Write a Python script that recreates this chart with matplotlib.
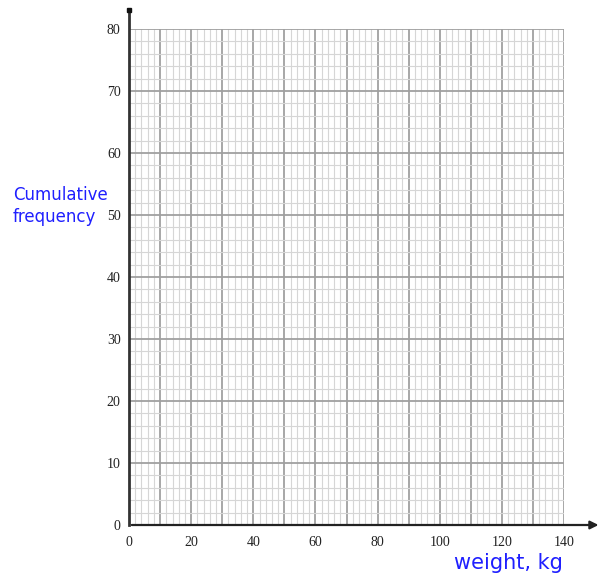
import matplotlib.pyplot as plt
import numpy as np

x_ticks = [0, 20, 40, 60, 80, 100, 120, 140]
y_ticks = [0, 10, 20, 30, 40, 50, 60, 70, 80]
x_label = "weight, kg"
y_label = "Cumulative\nfrequency"

fig = plt.figure(figsize=(6.03, 5.79), dpi=100)
ax = fig.add_axes([129 / 603, 54 / 579, 435 / 603, 496 / 579])
ax.set_xlim(0, 140)
ax.set_ylim(0, 80)

# graph paper: minor every 2, major every 10
for v in np.arange(0, 141, 2):
    major = v % 10 == 0
    ax.axvline(v, color="#a0a0a0" if major else "#d6d6d6", lw=1.3 if major else 0.8, zorder=1)
for v in np.arange(0, 81, 2):
    major = v % 10 == 0
    ax.axhline(v, color="#a0a0a0" if major else "#d6d6d6", lw=1.3 if major else 0.8, zorder=1)

for s in ax.spines.values():
    s.set_visible(False)
ax.tick_params(length=0, pad=8)
ax.set_xticks(x_ticks)
ax.set_yticks(y_ticks)
ax.set_xticklabels([str(t) for t in x_ticks], family="Liberation Serif", fontsize=10, color="#222")
ax.set_yticklabels([str(t) for t in y_ticks], family="Liberation Serif", fontsize=10, color="#222")
ax.tick_params(axis="y", pad=6)

# axes lines with arrow / end cap
ax.annotate("", xy=(152, 0), xytext=(0, 0), annotation_clip=False,
            arrowprops=dict(arrowstyle="-|>", color="#222", lw=1.6, mutation_scale=12), zorder=5)
ax.plot([0, 0], [0, 83], color="#333", lw=2, clip_on=False, zorder=5)
ax.plot([0], [83], marker="s", ms=3.5, color="#111", clip_on=False, zorder=6)

fig.text(13 / 603, 1 - 206 / 579, y_label, color="#1f1fff", fontsize=12,
         family="DejaVu Sans", ha="left", va="center", linespacing=1.3)
fig.text(508 / 603, 1 - 563 / 579, x_label, color="#1f1fff", fontsize=15,
         family="DejaVu Sans", ha="center", va="center")

fig.savefig("out.png", dpi=100)
